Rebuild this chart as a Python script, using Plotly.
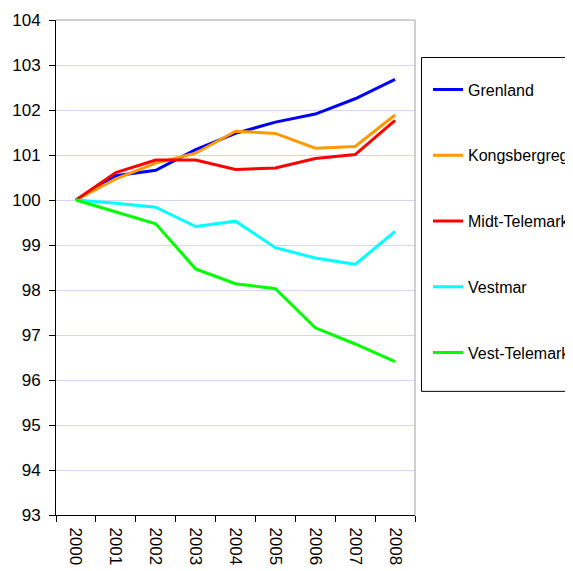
import plotly.graph_objects as go

years = ["2000", "2001", "2002", "2003", "2004", "2005", "2006", "2007", "2008"]
grenland = [100.0, 100.54, 100.66, 101.12, 101.48, 101.73, 101.91, 102.25, 102.68]
kongsberg = [100.0, 100.47, 100.82, 101.04, 101.53, 101.48, 101.15, 101.19, 101.89]
midt = [100.0, 100.61, 100.89, 100.89, 100.68, 100.71, 100.92, 101.01, 101.77]
vestmar = [100.0, 99.93, 99.84, 99.41, 99.53, 98.94, 98.71, 98.57, 99.30]
vest_tel = [100.0, 99.73, 99.47, 98.47, 98.14, 98.03, 97.16, 96.80, 96.41]

series = [
    ("Grenland", grenland, "#0000ff"),
    ("Kongsbergreg.", kongsberg, "#ff9900"),
    ("Midt-Telemark", midt, "#ff0000"),
    ("Vestmar", vestmar, "#00ffff"),
    ("Vest-Telemark", vest_tel, "#00ff00"),
]

OFF = 8  # browser body margin
W, H = 573 - OFF, 571 - OFF
# target window pixel positions of plot area
left, right, top, bottom = 56, 415, 19.5, 514.7
ml = left - OFF
mt = top - OFF
mr = W - (right - OFF)
mb = H - (bottom - OFF)

fig = go.Figure()
for i, (name, vals, col) in enumerate(series):
    fig.add_trace(go.Scatter(x=years, y=vals, mode="lines", name=name,
                             line=dict(color=col, width=3),
                             legendgroup=f"g{i}"))

pw = W - ml - mr
ph = H - mt - mb

def px_x(px):  # window pixel -> paper x
    return (px - OFF - ml) / pw

def px_y(py):  # window pixel -> paper y
    return (H - mb - (py - OFF)) / ph

fig.update_layout(
    width=W, height=H,
    margin=dict(l=ml, r=mr, t=mt, b=mb, pad=0, autoexpand=False),
    paper_bgcolor="white", plot_bgcolor="white",
    font=dict(family="Liberation Sans, Arial, sans-serif", color="black", size=17),
    showlegend=True,
    legend=dict(
        x=px_x(428), xanchor="left",
        y=px_y(72), yanchor="top",
        font=dict(size=16, family="Liberation Sans, Arial, sans-serif", color="black"),
        tracegroupgap=42, borderwidth=0, bgcolor="rgba(0,0,0,0)",
        traceorder="grouped",
    ),
    xaxis=dict(
        type="category", range=[-0.5, 8.5], tickson="boundaries",
        ticks="outside", ticklen=6, tickcolor="black", tickwidth=1,
        showline=True, linecolor="black", linewidth=1,
        showgrid=False, tickangle=90, tickfont=dict(size=17),
        ticklabelstandoff=8,
    ),
    yaxis=dict(
        range=[93, 104], dtick=1, tick0=93,
        ticks="outside", ticklen=6, tickcolor="black", tickwidth=1,
        showline=True, linecolor="black", linewidth=1,
        showgrid=True, gridcolor="#d4d4f6", gridwidth=1,
        zeroline=False, tickfont=dict(size=17), ticklabelstandoff=5,
    ),
    shapes=[
        dict(type="line", xref="paper", yref="paper", x0=0, x1=1, y0=1, y1=1,
             line=dict(color="#a0a0a0", width=1)),
        dict(type="line", xref="paper", yref="paper", x0=1, x1=1, y0=0, y1=1,
             line=dict(color="#a0a0a0", width=1)),
        dict(type="rect", xref="paper", yref="paper",
             x0=px_x(421.5), x1=px_x(620),
             y0=px_y(391), y1=px_y(57),
             line=dict(color="black", width=1), fillcolor="rgba(0,0,0,0)"),
    ],
)

fig.write_html("out.html")
